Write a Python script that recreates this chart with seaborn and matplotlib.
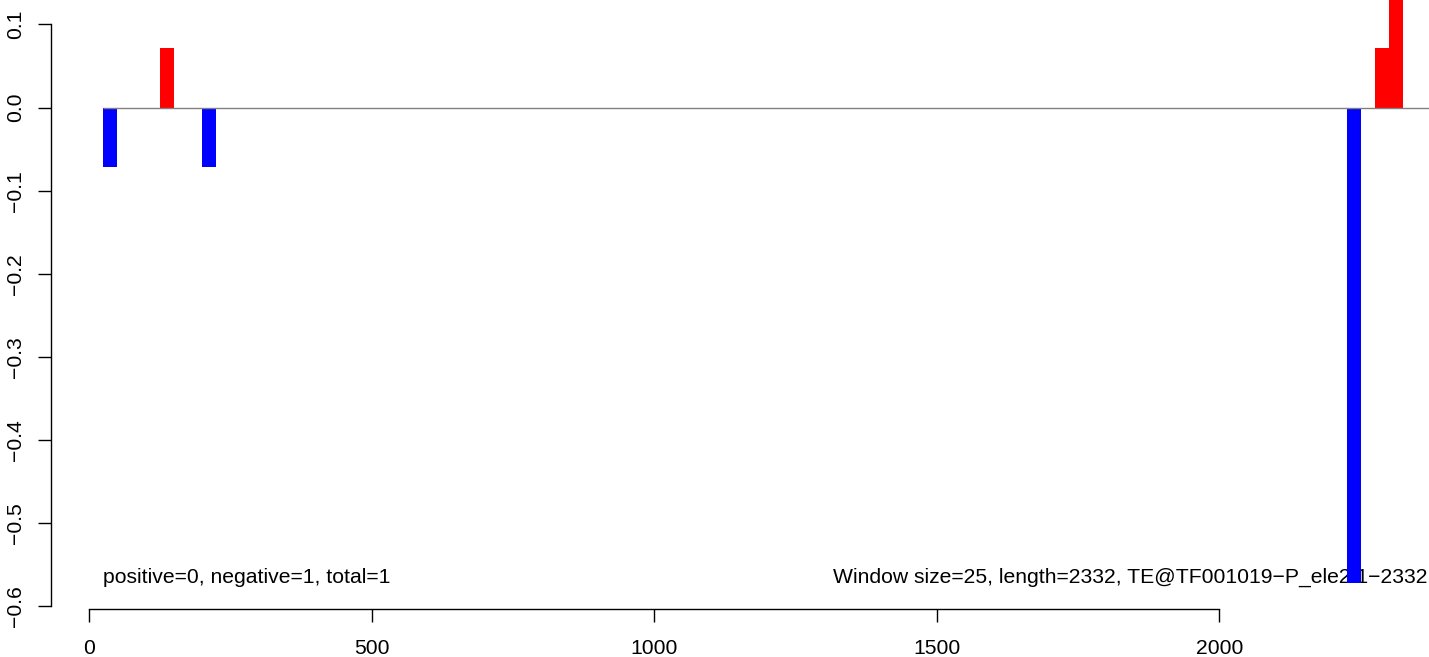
import matplotlib

matplotlib.use("Agg")
import matplotlib.pyplot as plt
import numpy as np
import pandas as pd
import seaborn as sns
from matplotlib.ticker import FuncFormatter

# window scores
window_size = 25
seq_length = 2332
seq_name = "TE@TF001019\u2212P_ele2:1\u22122332"
window_starts = [25, 125, 200, 2225, 2275, 2300]
scores = [-0.0714, 0.0714, -0.0714, -0.5714, 0.0714, 0.1429]
n_positive, n_negative, n_total = 0, 1, 1

x_ticks = [0, 500, 1000, 1500, 2000]
y_ticks = [0.1, 0.0, -0.1, -0.2, -0.3, -0.4, -0.5, -0.6]

# pixel layout of the R device (1429x657)
W, H = 1429, 657
px_x0, px_per_x = 89.0, 0.5652
px_y0, px_per_y = 107.5, 831.5
x_axis_px, y_axis_px = 609, 51
fs = 15.2

sns.set_style("white")
plt.rcParams["font.family"] = ["Liberation Sans", "DejaVu Sans"]

fig = plt.figure(figsize=(W / 100, H / 100), dpi=100)
ax = fig.add_axes([0, 0, 1, 1])

df = pd.DataFrame({"pos": np.array(window_starts) + window_size / 2, "score": scores})
df["sign"] = np.where(df["score"] > 0, "up", "down")

sns.barplot(
    data=df,
    x="pos",
    y="score",
    hue="sign",
    palette={"up": "red", "down": "blue"},
    native_scale=True,
    width=1.0,
    dodge=False,
    saturation=1,
    errorbar=None,
    linewidth=0,
    legend=False,
    orient="x",
    ax=ax,
    zorder=2,
)

ax.set_xlim(-px_x0 / px_per_x, (W - px_x0) / px_per_x)
ax.set_ylim(-(H - px_y0) / px_per_y, px_y0 / px_per_y)

ax.hlines(0, window_size, ax.get_xlim()[1], color="gray", lw=1, zorder=5)

ax.set_facecolor("white")
for side in ["top", "right"]:
    ax.spines[side].set_visible(False)
ax.spines["bottom"].set_position(("data", -(x_axis_px - px_y0) / px_per_y))
ax.spines["bottom"].set_bounds(x_ticks[0], x_ticks[-1])
ax.spines["left"].set_position(("data", (y_axis_px - px_x0) / px_per_x))
ax.spines["left"].set_bounds(y_ticks[-1], y_ticks[0])
for side in ["bottom", "left"]:
    ax.spines[side].set_color("black")
    ax.spines[side].set_linewidth(1.0)

ax.set_xticks(x_ticks)
ax.set_xticklabels([str(t) for t in x_ticks])
ax.set_yticks(y_ticks)
ax.yaxis.set_major_formatter(FuncFormatter(lambda v, p: f"{v:.1f}".replace("-", "\u2212") if abs(v) > 1e-9 else "0.0"))
ax.tick_params(axis="both", bottom=True, left=True, direction="out", length=9.4, width=1.0,
               color="black", labelsize=fs, labelcolor="black")
ax.tick_params(axis="x", pad=12.5)
ax.tick_params(axis="y", pad=9.5)
for lab in ax.get_yticklabels():
    lab.set_rotation(90)
    lab.set_va("center")
    lab.set_ha("right")
ax.set_xlabel("")
ax.set_ylabel("")

# the R text sits under the bars
ax.text(25, -0.565, f"positive={n_positive}, negative={n_negative}, total={n_total}",
        ha="left", va="center", fontsize=fs, color="black", zorder=1)
ax.text(1316, -0.565, f"Window size={window_size}, length={seq_length}, {seq_name}",
        ha="left", va="center", fontsize=fs, color="black", zorder=1)

fig.savefig("out.png", dpi=100, facecolor="white")
